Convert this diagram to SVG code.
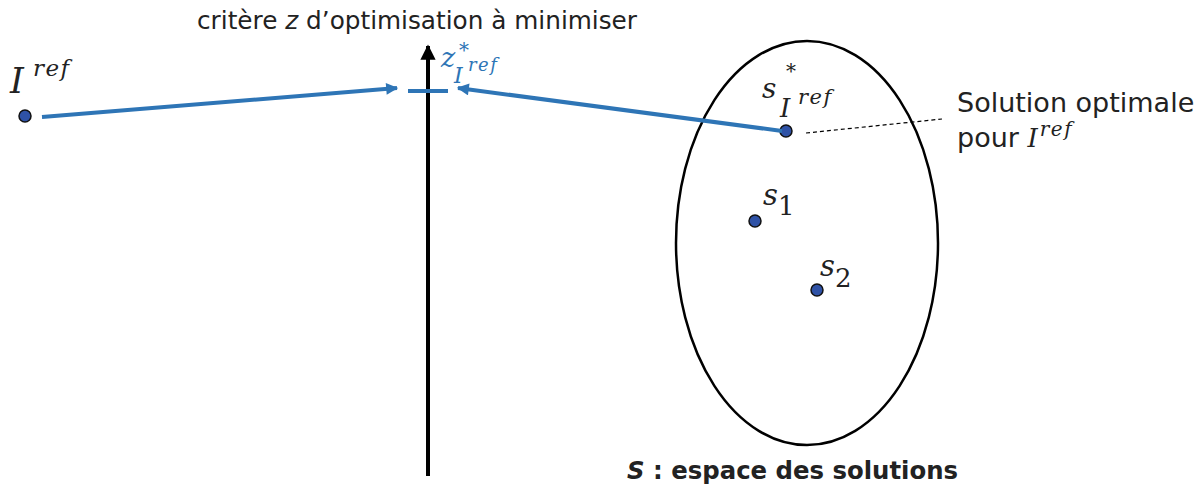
<svg xmlns="http://www.w3.org/2000/svg" width="1199" height="488" viewBox="0 0 1199 488">
<defs>
<style>
.lbl{font-family:"DejaVu Sans",Verdana,sans-serif;fill:#222}
.math{font-family:"DejaVu Serif","Liberation Serif",serif;font-style:italic;fill:#222}
.up{font-style:normal}
.bl{fill:#2e75b6}
.dot{fill:#2f52a6;stroke:#111;stroke-width:1.5}
.blue{stroke:#2e75b6;stroke-width:4;fill:none}
</style>
<marker id="ab" viewBox="0 0 10 10" refX="9" refY="5" markerWidth="3.5" markerHeight="3" orient="auto" markerUnits="strokeWidth"><path d="M0,0L10,5L0,10z" fill="#2e75b6"/></marker>
<marker id="ak" viewBox="0 0 10 10" refX="9" refY="5" markerWidth="4.5" markerHeight="3.8" orient="auto" markerUnits="strokeWidth"><path d="M0,0L10,5L0,10z" fill="#000"/></marker>
</defs>
<rect width="1199" height="488" fill="#fff"/>
<g id="axis">
<line x1="428" y1="476" x2="428" y2="46" stroke="#000" stroke-width="4" marker-end="url(#ak)"/>
<line x1="408" y1="91" x2="448" y2="91" stroke="#2e75b6" stroke-width="4"/>
<text class="lbl" x="197" y="29" font-size="24" textLength="440" lengthAdjust="spacingAndGlyphs">critère <tspan font-style="italic">z</tspan>  d’optimisation à minimiser</text>
</g>
<g id="zstar">
<text class="math bl" x="441" y="67" font-size="27">z</text>
<text class="math up bl" x="459" y="57" font-size="20">*</text>
<text class="math bl" x="454" y="83" font-size="22">I</text>
<text class="math bl" x="468" y="71" font-size="18" letter-spacing="1.5">ref</text>
</g>
<g id="space">
<ellipse cx="807" cy="243" rx="131" ry="202" fill="none" stroke="#000" stroke-width="2.5"/>
<text x="627" y="479" font-family="'DejaVu Sans',Verdana,sans-serif" font-weight="bold" font-size="24" fill="#222" textLength="331" lengthAdjust="spacingAndGlyphs"><tspan font-style="italic">S</tspan> : espace des solutions</text>
</g>
<g id="iref">
<circle class="dot" cx="25" cy="116" r="6"/>
<text class="math" x="10" y="93" font-size="35">I</text>
<text class="math" x="33" y="76" font-size="23" letter-spacing="1.5">ref</text>
</g>
<g id="sstar">
<circle class="dot" cx="786" cy="131" r="6"/>
<text class="math" x="762" y="98" font-size="28">s</text>
<text class="math up" x="786" y="78" font-size="20">*</text>
<text class="math" x="780" y="117" font-size="26">I</text>
<text class="math" x="798" y="104" font-size="21" letter-spacing="1.5">ref</text>
<text class="lbl" x="957" y="112" font-size="27">Solution optimale</text>
<text class="lbl" x="957" y="147" font-size="27">pour <tspan class="math" font-size="26">I</tspan><tspan class="math" font-size="20" dx="2" dy="-11" letter-spacing="1.5">ref</tspan></text>
</g>
<g id="s1">
<circle class="dot" cx="755" cy="221" r="6"/>
<text class="math" x="763" y="205" font-size="29">s<tspan class="up" font-size="26" dy="10">1</tspan></text>
</g>
<g id="s2">
<circle class="dot" cx="817" cy="290" r="6"/>
<text class="math" x="820" y="276" font-size="29">s<tspan class="up" font-size="26" dy="11">2</tspan></text>
</g>
<g id="connectors">
<line class="blue" x1="42" y1="117" x2="397" y2="88" marker-end="url(#ab)"/>
<line class="blue" x1="782" y1="131" x2="458" y2="88" marker-end="url(#ab)"/>
<line x1="806" y1="133" x2="942" y2="119" stroke="#000" stroke-width="1.2" stroke-dasharray="4,3"/>
</g>
</svg>
